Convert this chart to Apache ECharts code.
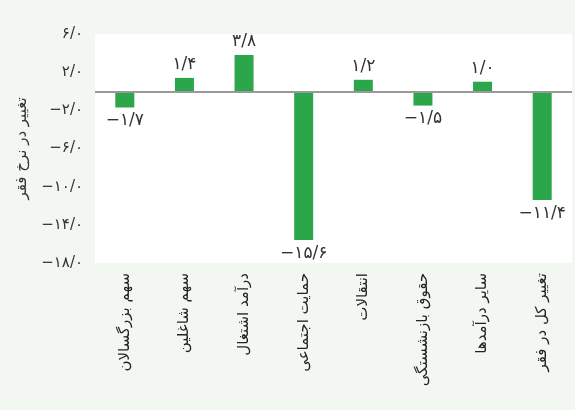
<!DOCTYPE html>
<html>
	<head>
		<meta charset="utf-8">
		<title></title>
		<style type="text/css">
			* {
				margin: 0;
				padding: 0;
			}
			body {
				background: #f2f7f1;
			}
			#chart {
				width: 575px;
				height: 410px;
			}
		</style>
		<script src="https://cdn.jsdelivr.net/npm/echarts@6/dist/echarts.min.js"></script>
	</head>
	<body>
		<div id="chart"></div>
	</body>
	<script type="text/javascript">
		var categories = ['سهم بزرگسالان', 'سهم شاغلین', 'درآمد اشتغال', 'حمایت اجتماعی', 'انتقالات', 'حقوق بازنشستگی', 'سایر درآمدها', 'تغییر کل در فقر'];
		var values = [-1.7, 1.4, 3.8, -15.6, 1.2, -1.5, 1.0, -11.4];
		var yTitle = 'تغییر در نرخ فقر';

		// اعداد فارسی با ممیز "/"
		function fa(v) {
			var s = Math.abs(v).toFixed(1).replace('.', '/');
			s = s.replace(/[0-9]/g, function(d) { return '۰۱۲۳۴۵۶۷۸۹'[d]; });
			return (v < 0 ? '−' : '') + s;
		}

		var chart = echarts.init(document.getElementById('chart'));
		var option = {
			backgroundColor: '#f2f7f1',
			textStyle: { fontFamily: 'DejaVu Sans' },
			grid: {
				left: 95, right: 3, top: 34, bottom: 147,
				show: true, backgroundColor: '#ffffff', borderWidth: 0
			},
			xAxis: {
				type: 'category',
				data: categories,
				axisLine: { show: false },
				axisTick: { show: false },
				axisLabel: {
					rotate: 90, margin: 10, interval: 0,
					fontSize: 15, color: '#222'
				}
			},
			yAxis: {
				type: 'value',
				min: -18, max: 6, interval: 4,
				name: yTitle,
				nameLocation: 'middle',
				nameGap: 65,
				nameTextStyle: { fontSize: 15, color: '#333' },
				axisLine: { show: false },
				axisTick: { show: false },
				splitLine: { show: false },
				axisLabel: {
					margin: 12, fontSize: 15, color: '#333',
					formatter: function(v) { return fa(v); }
				}
			},
			series: [{
				type: 'bar',
				data: values.map(function(v) {
					// برچسب منفی‌ها زیر میله
					return { value: v, label: { position: v < 0 ? 'bottom' : 'top' } };
				}),
				barWidth: 19,
				itemStyle: { color: '#2ba64a' },
				label: {
					show: true,
					fontSize: 17, color: '#333',
					formatter: function(p) { return fa(p.value); }
				},
				markLine: {
					silent: true,
					symbol: 'none',
					label: { show: false },
					lineStyle: { color: '#999', width: 2, type: 'solid' },
					data: [{ yAxis: 0 }]
				}
			}]
		};
		chart.setOption(option);
	</script>
</html>
